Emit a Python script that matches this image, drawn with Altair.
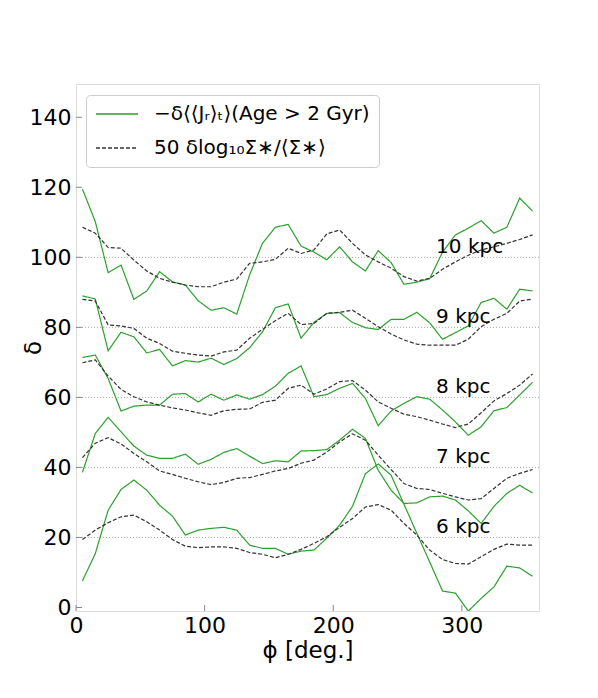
import altair as alt
import pandas as pd

phi = [5, 15, 25, 35, 45, 55, 65, 75, 85, 95, 105, 115, 125, 135, 145, 155, 165, 175,
       185, 195, 205, 215, 225, 235, 245, 255, 265, 275, 285, 295, 305, 315, 325, 335, 345, 355]

radii = ["10 kpc", "9 kpc", "8 kpc", "7 kpc", "6 kpc"]

green = {
    "10 kpc": [119.5, 110.2, 95.6, 97.8, 88.0, 90.4, 95.9, 93.0, 92.1, 87.6, 84.9, 85.6, 83.8, 95.0,
               104.0, 108.6, 109.4, 103.2, 101.5, 99.3, 103.0, 98.7, 96.1, 101.9, 98.5, 92.3, 92.9,
               93.9, 101.5, 106.4, 108.3, 110.5, 106.9, 108.6, 116.9, 113.2],
    "9 kpc": [89.0, 88.1, 73.3, 78.6, 77.3, 72.7, 73.7, 69.0, 70.5, 70.1, 71.2, 69.4, 71.1, 74.2, 78.7,
              85.6, 86.7, 76.9, 81.4, 84.0, 84.2, 81.4, 79.9, 79.4, 82.3, 82.3, 84.3, 81.3, 76.6, 78.5,
              80.4, 87.1, 88.3, 85.2, 90.9, 90.4],
    "8 kpc": [71.4, 72.1, 65.4, 56.1, 57.5, 57.8, 57.8, 60.9, 61.1, 58.7, 60.9, 59.2, 60.7, 59.5, 60.8,
              63.2, 66.9, 69.0, 60.2, 60.8, 62.6, 64.0, 59.7, 51.9, 56.1, 58.3, 60.2, 59.5, 56.4, 53.0,
              49.2, 51.6, 56.2, 57.1, 60.7, 64.3],
    "7 kpc": [38.6, 49.7, 54.3, 50.2, 46.1, 43.5, 42.6, 42.6, 43.8, 40.9, 42.3, 44.3, 45.4, 43.2, 41.1,
              41.9, 41.6, 44.7, 44.8, 45.1, 47.8, 50.9, 48.3, 39.2, 33.5, 29.7, 29.9, 31.6, 31.8, 30.7,
              27.6, 24.0, 28.9, 32.6, 34.9, 32.7],
    "6 kpc": [7.6, 15.4, 27.8, 33.7, 36.4, 33.5, 29.2, 26.1, 20.7, 22.1, 22.6, 22.9, 22.1, 17.8, 16.9,
              16.9, 15.2, 16.1, 16.4, 19.8, 23.5, 28.9, 38.2, 41.0, 37.8, 29.5, 21.2, 13.0, 4.7, 4.1,
              -1.0, 2.6, 5.9, 11.8, 11.3, 8.9],
}

dashed = {
    "10 kpc": [108.6, 106.9, 102.8, 102.6, 99.2, 96.1, 94.0, 92.9, 92.1, 91.6, 91.6, 92.9, 93.8, 98.3,
               98.7, 99.4, 102.6, 101.1, 102.1, 106.7, 107.8, 104.0, 100.7, 98.7, 96.9, 94.5, 93.2,
               94.0, 96.6, 98.7, 100.6, 102.1, 103.0, 104.0, 105.1, 106.4],
    "9 kpc": [88.0, 87.5, 80.7, 80.4, 79.7, 76.9, 75.4, 73.2, 72.6, 72.1, 71.8, 73.0, 73.5, 76.9, 79.4,
              81.9, 84.0, 80.8, 81.1, 84.0, 84.3, 84.9, 82.6, 80.2, 78.1, 76.4, 75.2, 74.9, 74.9, 74.9,
              76.6, 80.2, 82.3, 84.0, 87.5, 88.1],
    "8 kpc": [69.9, 70.7, 66.1, 62.3, 60.2, 58.7, 57.8, 57.0, 56.4, 55.6, 54.9, 56.2, 56.6, 56.7, 58.6,
              59.2, 62.6, 63.5, 60.9, 62.4, 64.5, 64.8, 62.1, 58.7, 56.9, 55.2, 54.5, 53.5, 52.4, 51.4,
              52.4, 55.6, 59.0, 61.1, 63.5, 66.7],
    "7 kpc": [42.8, 46.9, 48.5, 46.7, 44.0, 41.6, 39.0, 38.0, 36.9, 35.9, 35.1, 35.7, 36.9, 37.1, 38.0,
              39.0, 39.7, 41.2, 42.1, 44.4, 47.3, 49.6, 47.8, 43.5, 39.4, 35.4, 34.0, 33.7, 32.6, 31.6,
              30.7, 31.1, 34.0, 36.9, 38.3, 39.4],
    "6 kpc": [19.4, 22.1, 24.2, 25.9, 26.4, 24.5, 22.1, 19.4, 17.5, 17.1, 17.3, 17.3, 16.9, 15.7, 15.2,
              14.2, 15.2, 16.6, 18.3, 20.2, 22.9, 25.4, 28.7, 29.4, 27.8, 24.0, 20.7, 16.4, 13.7, 12.6,
              12.4, 14.5, 16.6, 18.1, 17.8, 17.8],
}

ref_levels = [20, 40, 60, 80, 100]
label_phi = [280, 280, 280, 280, 280]
label_y = [103, 83, 63, 43, 23]

x_ticks = [0, 100, 200, 300]
y_ticks = [0, 20, 40, 60, 80, 100, 120, 140]

lab_green = "−δ⟨⟨Jᵣ⟩ₜ⟩(Age > 2 Gyr)"
lab_dash = "50 δlog₁₀Σ∗/⟨Σ∗⟩"

rows = []
for r in radii:
    for p, v in zip(phi, green[r]):
        rows.append({"phi": p, "val": v, "radius": r, "kind": lab_green})
    for p, v in zip(phi, dashed[r]):
        rows.append({"phi": p, "val": v, "radius": r, "kind": lab_dash})
df = pd.DataFrame(rows)

W, H = 463, 527
xs = alt.Scale(domain=[0, 360], nice=False, zero=False)
ys = alt.Scale(domain=[-1, 149.5], nice=False, zero=False)

FONT = "DejaVu Sans"
FRAME = "#888888"

xaxis = alt.Axis(values=x_ticks, grid=False, domain=False, ticks=False, labelFontSize=22,
                 labelPadding=4, labelFont=FONT, labelColor="black", titleFont=FONT,
                 titleFontSize=23, titleFontWeight="normal", titlePadding=3, titleColor="black",
                 labelFlush=False)
yaxis = alt.Axis(values=y_ticks, grid=False, domain=False, ticks=False, labelFontSize=22,
                 labelPadding=5, labelFont=FONT, labelColor="black", titleFont=FONT,
                 titleFontSize=23, titleFontWeight="normal", titlePadding=-16, titleColor="black",
                 labelFlush=False)

refs = alt.Chart(pd.DataFrame({"y": ref_levels})).mark_rule(
    color="#aaaaaa", strokeDash=[1, 2], strokeWidth=1
).encode(y=alt.Y("y:Q", scale=ys, axis=yaxis, title="δ"))

lines = alt.Chart(df).mark_line(strokeWidth=1.2, clip=True).encode(
    x=alt.X("phi:Q", scale=xs, axis=xaxis, title="ϕ [deg.]"),
    y=alt.Y("val:Q", scale=ys),
    color=alt.Color("kind:N", scale=alt.Scale(domain=[lab_green, lab_dash],
                                              range=["#2ca02c", "#333333"]),
                    title=None,
                    legend=alt.Legend(orient="none", legendX=10, legendY=11, symbolType="stroke",
                                      symbolSize=1764, symbolStrokeWidth=1.5, labelFontSize=20,
                                      labelFont=FONT, labelOffset=15, rowPadding=14, padding=9,
                                      clipHeight=20,
                                      strokeColor="#cccccc", fillColor="white", cornerRadius=4,
                                      labelLimit=400)),
    strokeDash=alt.StrokeDash("kind:N", scale=alt.Scale(domain=[lab_green, lab_dash],
                                                        range=[[1, 0], [4, 2]]),
                              title=None),
    detail="radius:N",
)

labels = alt.Chart(pd.DataFrame({"phi": label_phi, "y": label_y, "t": radii})).mark_text(
    align="left", baseline="middle", fontSize=20, font=FONT, color="black"
).encode(x=alt.X("phi:Q", scale=xs), y=alt.Y("y:Q", scale=ys), text="t:N")

ytk = alt.Chart(pd.DataFrame({"y": y_ticks})).mark_rule(color=FRAME, strokeWidth=1).encode(
    y=alt.Y("y:Q", scale=ys), x=alt.value(0), x2=alt.value(6))
xtk = alt.Chart(pd.DataFrame({"x": x_ticks})).mark_rule(color=FRAME, strokeWidth=1).encode(
    x=alt.X("x:Q", scale=xs), y=alt.value(H), y2=alt.value(H - 6))

chart = alt.layer(refs, lines, labels, ytk, xtk).properties(
    width=W, height=H,
    autosize=alt.AutoSizeParams(type="none"),
    padding={"left": 68, "top": 76, "right": 40, "bottom": 70},
).configure_view(stroke=FRAME, strokeWidth=1).configure(background="white")

chart.save("out.html", embed_options={"renderer": "svg", "actions": False})
